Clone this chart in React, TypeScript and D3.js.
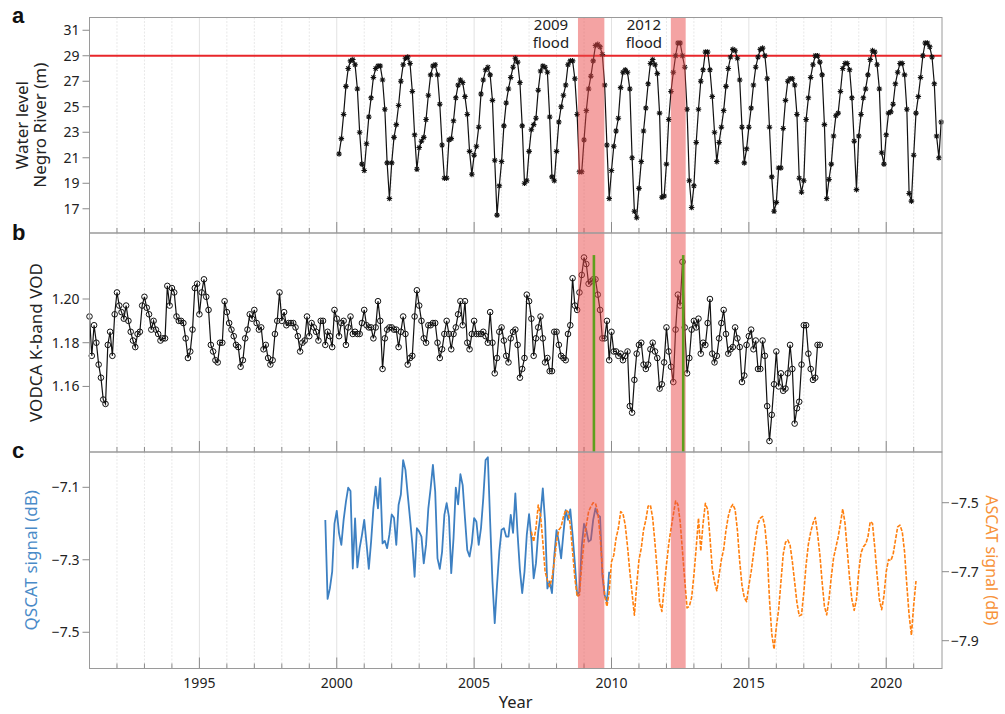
import React from 'react';
import * as d3 from 'd3';

// ---------- Panel a: Negro River water level (m), monthly, Feb 2000 – Jan 2022 ----------
const waterStart = 2000 + 1 / 12;
const wl2000 = [21.3, 22.5, 24.4, 26.6, 28.0, 28.6, 28.7, 28.3, 26.4, 23.0, 20.5];
const wl2001 = [20.0, 22.1, 24.2, 25.7, 27.3, 28.0, 28.2, 28.2, 27.1, 24.8, 20.6, 17.8];
const wl2002 = [20.6, 22.6, 23.6, 25.1, 27.0, 28.3, 28.8, 28.9, 28.4, 26.2, 22.8, 20.1];
const wl2003 = [21.8, 22.3, 22.6, 24.0, 25.9, 27.5, 28.2, 28.3, 27.5, 25.2, 22.0, 19.4];
const wl2004 = [19.4, 22.4, 22.5, 23.9, 25.7, 26.7, 27.1, 26.9, 25.8, 24.4, 21.5, 19.7];
const wl2005 = [21.2, 21.9, 23.4, 26.0, 27.1, 27.9, 28.1, 27.5, 25.5, 20.8, 16.5, 18.8];
const wl2006 = [20.7, 23.5, 25.3, 26.4, 27.3, 28.1, 28.8, 28.5, 26.9, 23.5, 19.0, 19.2];
const wl2007 = [21.5, 23.2, 23.6, 24.1, 26.3, 27.8, 28.2, 28.1, 27.7, 24.2, 19.5, 19.2];
const wl2008 = [21.5, 23.8, 25.0, 25.9, 26.7, 28.3, 28.6, 28.6, 27.2, 24.4, 19.9, 19.9];
const wl2009 = [22.4, 24.7, 26.4, 27.4, 28.6, 29.8, 29.9, 29.7, 29.1, 26.7, 22.0, 17.8];
const wl2010 = [20.0, 21.9, 23.1, 24.1, 26.5, 27.7, 27.9, 27.7, 26.4, 21.0, 16.8, 16.3];
const wl2011 = [18.6, 20.7, 23.1, 24.9, 26.8, 28.4, 28.7, 28.3, 27.6, 24.5, 17.9, 18.0];
const wl2012 = [20.5, 24.0, 26.2, 27.7, 29.0, 30.0, 30.0, 29.0, 28.1, 24.8, 19.2, 17.1];
const wl2013 = [18.8, 22.2, 24.8, 27.0, 27.9, 29.3, 29.3, 27.9, 25.8, 23.0, 20.7, 22.2];
const wl2014 = [23.4, 24.7, 26.6, 28.0, 28.9, 29.5, 29.4, 28.8, 27.1, 23.4, 20.6, 21.7];
const wl2015 = [23.4, 24.9, 26.7, 28.1, 28.9, 29.5, 29.6, 29.0, 27.2, 23.4, 19.5, 16.8];
const wl2016 = [17.5, 20.2, 20.2, 23.3, 25.5, 27.0, 27.2, 27.2, 26.7, 24.4, 19.4, 18.3];
const wl2017 = [19.2, 24.0, 25.7, 27.3, 28.3, 29.0, 29.0, 28.5, 27.5, 23.6, 17.8, 19.3];
const wl2018 = [20.5, 22.7, 24.3, 24.5, 26.2, 28.0, 28.4, 28.4, 27.9, 25.7, 22.3, 18.5];
const wl2019 = [22.7, 24.4, 25.7, 26.4, 27.5, 28.7, 29.4, 29.3, 28.3, 26.4, 21.4, 20.5];
const wl2020 = [22.8, 24.5, 24.6, 25.2, 26.8, 27.7, 28.4, 28.4, 27.5, 24.8, 18.2, 17.6];
const wl2021 = [21.2, 24.5, 25.8, 27.3, 29.0, 30.0, 30.0, 29.7, 28.9, 26.8, 22.7, 21.0];
const wl2022 = [23.8];
const waterLevel = [
  ...wl2000, ...wl2001, ...wl2002, ...wl2003, ...wl2004, ...wl2005, ...wl2006, ...wl2007,
  ...wl2008, ...wl2009, ...wl2010, ...wl2011, ...wl2012, ...wl2013, ...wl2014, ...wl2015,
  ...wl2016, ...wl2017, ...wl2018, ...wl2019, ...wl2020, ...wl2021, ...wl2022,
];
const floodThreshold = 29;

// ---------- Panel b: VODCA K-band VOD, monthly, Jan 1991 – Aug 2017 ----------
const vodStart = 1991;
const vod1991 = [1.192, 1.174, 1.188, 1.180, 1.170, 1.164, 1.154, 1.152, 1.179, 1.185, 1.174, 1.193];
const vod1992 = [1.203, 1.197, 1.194, 1.191, 1.197, 1.190, 1.185, 1.181, 1.178, 1.184, 1.185, 1.197];
const vod1993 = [1.201, 1.196, 1.193, 1.186, 1.190, 1.186, 1.184, 1.181, 1.182, 1.182, 1.206, 1.197];
const vod1994 = [1.205, 1.203, 1.192, 1.190, 1.190, 1.189, 1.182, 1.173, 1.176, 1.186, 1.205, 1.207];
const vod1995 = [1.193, 1.203, 1.209, 1.201, 1.195, 1.179, 1.176, 1.172, 1.171, 1.180, 1.180, 1.199];
const vod1996 = [1.194, 1.189, 1.186, 1.183, 1.179, 1.178, 1.169, 1.172, 1.182, 1.186, 1.193, 1.191];
const vod1997 = [1.195, 1.189, 1.186, 1.187, 1.177, 1.179, 1.173, 1.170, 1.172, 1.184, 1.190, 1.203];
const vod1998 = [1.190, 1.194, 1.188, 1.189, 1.189, 1.189, 1.187, 1.183, 1.176, 1.180, 1.181, 1.192];
const vod1999 = [1.183, 1.189, 1.187, 1.185, 1.181, 1.190, 1.190, 1.179, 1.185, 1.183, 1.178, 1.195];
const vod2000 = [1.191, 1.183, 1.189, 1.190, 1.179, 1.187, 1.192, 1.184, 1.185, 1.184, 1.184, 1.189];
const vod2001 = [1.195, 1.188, 1.187, 1.187, 1.182, 1.187, 1.199, 1.190, 1.168, 1.182, 1.186, 1.187];
const vod2002 = [1.187, 1.186, 1.186, 1.178, 1.185, 1.192, 1.184, 1.170, 1.173, 1.174, 1.192, 1.204];
const vod2003 = [1.197, 1.190, 1.182, 1.180, 1.188, 1.188, 1.189, 1.189, 1.180, 1.173, 1.177, 1.184];
const vod2004 = [1.190, 1.184, 1.177, 1.184, 1.187, 1.193, 1.199, 1.188, 1.199, 1.180, 1.177, 1.184];
const vod2005 = [1.190, 1.184, 1.184, 1.184, 1.185, 1.183, 1.180, 1.194, 1.180, 1.166, 1.173, 1.185];
const vod2006 = [1.187, 1.181, 1.174, 1.171, 1.182, 1.185, 1.186, 1.179, 1.164, 1.168, 1.173, 1.202];
const vod2007 = [1.199, 1.191, 1.174, 1.182, 1.187, 1.192, 1.182, 1.171, 1.173, 1.167, 1.167, 1.185];
const vod2008 = [1.185, 1.179, 1.174, 1.173, 1.172, 1.184, 1.188, 1.2095, 1.197, 1.195, 1.203, 1.211];
const vod2009 = [1.219, 1.216, 1.207, 1.208, 1.209, 1.209, 1.202, 1.195, 1.182, 1.182, 1.190, 1.172];
const vod2010 = [1.185, 1.176, 1.176, 1.174, 1.175, 1.172, 1.174, 1.176, 1.151, 1.148, 1.163, 1.175];
const vod2011 = [1.179, 1.180, 1.170, 1.168, 1.170, 1.177, 1.180, 1.176, 1.173, 1.159, 1.161, 1.171];
const vod2012 = [1.187, 1.176, 1.169, 1.162, 1.186, 1.202, 1.197, 1.217, 1.187, 1.166, 1.173, 1.186];
const vod2013 = [1.190, 1.187, 1.191, 1.175, 1.180, 1.179, 1.189, 1.200, 1.175, 1.171, 1.174, 1.182];
const vod2014 = [1.189, 1.195, 1.184, 1.175, 1.177, 1.178, 1.187, 1.182, 1.178, 1.162, 1.165, 1.179];
const vod2015 = [1.183, 1.186, 1.177, 1.181, 1.168, 1.168, 1.181, 1.174, 1.151, 1.135, 1.147, 1.161];
const vod2016 = [1.176, 1.160, 1.166, 1.158, 1.159, 1.166, 1.179, 1.168, 1.143, 1.150, 1.153, 1.170];
const vod2017 = [1.188, 1.188, 1.175, 1.168, 1.163, 1.164, 1.179, 1.179];
const vod = [
  ...vod1991, ...vod1992, ...vod1993, ...vod1994, ...vod1995, ...vod1996, ...vod1997, ...vod1998,
  ...vod1999, ...vod2000, ...vod2001, ...vod2002, ...vod2003, ...vod2004, ...vod2005, ...vod2006,
  ...vod2007, ...vod2008, ...vod2009, ...vod2010, ...vod2011, ...vod2012, ...vod2013, ...vod2014,
  ...vod2015, ...vod2016, ...vod2017,
];

// ---------- Panel c: QSCAT (left axis) Aug 1999 – Dec 2009, ASCAT (right axis) Feb 2007 – Feb 2021 ----------
const qscatStart = 1999 + 7 / 12;
const qs1999 = [-7.190, -7.408, -7.379, -7.333, -7.200];
const qs2000 = [-7.165, -7.227, -7.259, -7.190, -7.140, -7.101, -7.110, -7.324, -7.186, -7.321, -7.268, -7.232];
const qs2001 = [-7.190, -7.255, -7.325, -7.250, -7.158, -7.098, -7.158, -7.075, -7.255, -7.248, -7.268, -7.230];
const qs2002 = [-7.175, -7.184, -7.259, -7.149, -7.120, -7.025, -7.052, -7.121, -7.186, -7.255, -7.347, -7.213];
const qs2003 = [-7.222, -7.236, -7.310, -7.259, -7.158, -7.103, -7.038, -7.112, -7.296, -7.325, -7.278, -7.176];
const qs2004 = [-7.144, -7.181, -7.337, -7.241, -7.101, -7.147, -7.064, -7.094, -7.185, -7.273, -7.291, -7.254];
const qs2005 = [-7.185, -7.195, -7.259, -7.213, -7.130, -7.025, -7.017, -7.195, -7.360, -7.475, -7.370, -7.277];
const qs2006 = [-7.217, -7.213, -7.236, -7.236, -7.176, -7.226, -7.117, -7.231, -7.328, -7.392, -7.333, -7.231];
const qs2007 = [-7.174, -7.241, -7.351, -7.310, -7.224, -7.176, -7.103, -7.195, -7.379, -7.360, -7.392, -7.291];
const qs2008 = [-7.218, -7.250, -7.296, -7.227, -7.163, -7.190, -7.161, -7.231, -7.310, -7.397, -7.388, -7.264];
const qs2009 = [-7.201, -7.218, -7.250, -7.245, -7.190, -7.158, -7.176, -7.181, -7.342, -7.397, -7.415, -7.333];
const qscat = [
  ...qs1999, ...qs2000, ...qs2001, ...qs2002, ...qs2003, ...qs2004, ...qs2005, ...qs2006,
  ...qs2007, ...qs2008, ...qs2009,
];

const ascatStart = 2007 + 1 / 12;
const as2007 = [-7.584, -7.613, -7.574, -7.507, -7.536, -7.613, -7.700, -7.724, -7.743, -7.719, -7.671];
const as2008 = [-7.613, -7.579, -7.570, -7.541, -7.521, -7.526, -7.565, -7.642, -7.719, -7.772, -7.768, -7.681];
const as2009 = [-7.613, -7.565, -7.526, -7.511, -7.500, -7.502, -7.526, -7.594, -7.690, -7.768, -7.801, -7.758];
const as2010 = [-7.671, -7.652, -7.603, -7.574, -7.526, -7.531, -7.565, -7.627, -7.700, -7.763, -7.826, -7.739];
const as2011 = [-7.666, -7.632, -7.579, -7.550, -7.510, -7.507, -7.545, -7.618, -7.700, -7.790, -7.815, -7.748];
const as2012 = [-7.680, -7.620, -7.575, -7.535, -7.495, -7.505, -7.555, -7.640, -7.725, -7.805, -7.800, -7.775];
const as2013 = [-7.710, -7.630, -7.545, -7.640, -7.560, -7.502, -7.520, -7.600, -7.690, -7.730, -7.755, -7.710];
const as2014 = [-7.665, -7.635, -7.580, -7.540, -7.515, -7.505, -7.520, -7.580, -7.670, -7.740, -7.775, -7.787];
const as2015 = [-7.740, -7.700, -7.650, -7.600, -7.560, -7.545, -7.540, -7.570, -7.640, -7.780, -7.880, -7.925];
const as2016 = [-7.860, -7.810, -7.730, -7.650, -7.615, -7.608, -7.623, -7.671, -7.730, -7.790, -7.828, -7.825];
const as2017 = [-7.760, -7.680, -7.620, -7.585, -7.560, -7.543, -7.590, -7.650, -7.730, -7.800, -7.825, -7.780];
const as2018 = [-7.715, -7.660, -7.630, -7.600, -7.560, -7.518, -7.560, -7.640, -7.720, -7.780, -7.812, -7.780];
const as2019 = [-7.700, -7.645, -7.628, -7.620, -7.600, -7.555, -7.560, -7.630, -7.710, -7.780, -7.810, -7.770];
const as2020 = [-7.700, -7.665, -7.668, -7.650, -7.610, -7.570, -7.565, -7.584, -7.642, -7.739, -7.826, -7.884];
const as2021 = [-7.797, -7.727];
const ascat = [
  ...as2007, ...as2008, ...as2009, ...as2010, ...as2011, ...as2012, ...as2013, ...as2014,
  ...as2015, ...as2016, ...as2017, ...as2018, ...as2019, ...as2020, ...as2021,
];

// ---------- Annotations ----------
const floodLabels = ['2009', '2012'];
const floodStart = [2008.78, 2012.16];
const floodEnd = [2009.74, 2012.70];
const greenMarks = [2009.36, 2012.61];
const greenTop = 1.2201;

// ---------- Axis ticks ----------
const yearLabels = [1995, 2000, 2005, 2010, 2015, 2020];
const ticksA = [17, 19, 21, 23, 25, 27, 29, 31];
const ticksB = [1.16, 1.18, 1.20];
const ticksCLeft = [-7.5, -7.3, -7.1];
const ticksCRight = [-7.9, -7.7, -7.5];

const monthly = (start: number, vals: number[]) => vals.map((v, i) => ({ t: start + i / 12, v }));
const minus = (s: string) => s.replace('-', '\u2212');

const FONT = "'Noto Sans', 'DejaVu Sans', sans-serif";
const FRAME = '#9a9a9a';
const TICK = '#8a8a8a';
const TXT = '#222';
const BLUE = '#3d80c2';
const ORANGE = '#ff7f0e';

export default function App() {
  const W = 1005, H = 714;
  const L = 89.5, R = 942;
  const aTop = 17.5, aBot = 233, bBot = 452, cBot = 668.5;

  const x = d3.scaleLinear().domain([1991, 2022.03]).range([L, R]);
  const yA = d3.scaleLinear().domain([15.1, 32]).range([aBot, aTop]);
  const yB = d3.scaleLinear().domain([1.13, 1.2302]).range([bBot, aBot]);
  const yC = d3.scaleLinear().domain([-7.6, -7.0026]).range([cBot, bBot]);
  const yC2 = d3.scaleLinear().domain([-7.9806, -7.353]).range([cBot, bBot]);

  const wlPts = monthly(waterStart, waterLevel);
  const vodPts = monthly(vodStart, vod);
  const qsPts = monthly(qscatStart, qscat);
  const asPts = monthly(ascatStart, ascat);

  const lineA = d3.line<{ t: number; v: number }>().x(d => x(d.t)).y(d => yA(d.v));
  const lineB = d3.line<{ t: number; v: number }>().x(d => x(d.t)).y(d => yB(d.v));
  const lineC = d3.line<{ t: number; v: number }>().x(d => x(d.t)).y(d => yC(d.v));
  const lineC2 = d3.line<{ t: number; v: number }>().x(d => x(d.t)).y(d => yC2(d.v));

  const panels = [
    { top: aTop, bottom: aBot },
    { top: aBot, bottom: bBot },
    { top: bBot, bottom: cBot },
  ];
  const gridYears = d3.range(1992, 2022);

  const r = 2.8, a = r * 0.72;
  const asterisk = `M${-r},0L${r},0M0,${-r}L0,${r}M${-a},${-a}L${a},${a}M${-a},${a}L${a},${-a}`;

  return (
    <svg width={W} height={H} style={{ position: 'absolute', left: 0, top: 0, background: '#fff' }}
      fontFamily={FONT}>
      <rect x={0} y={0} width={W} height={H} fill="#fff" />
      {/* grid */}
      {panels.map((p, pi) => (
        <g key={'g' + pi}>
          {gridYears.map(yr => (
            <line key={yr} x1={x(yr)} x2={x(yr)} y1={p.top} y2={p.bottom}
              stroke={yr % 5 === 0 ? '#e2e2e2' : '#e8e8e8'} strokeWidth={1}
              strokeDasharray={yr % 5 === 0 ? undefined : '2,1.5'} />
          ))}
          {gridYears.map(yr => (
            <line key={'t' + yr} x1={x(yr)} x2={x(yr)} y1={p.bottom} y2={p.bottom - (yr % 5 === 0 ? 11 : 5)}
              stroke={TICK} strokeWidth={1} />
          ))}
        </g>
      ))}

      {/* panel a */}
      <line x1={L} x2={R} y1={yA(floodThreshold)} y2={yA(floodThreshold)} stroke="#e8262a" strokeWidth={1.8} />
      <path d={lineA(wlPts) || ''} fill="none" stroke="#111" strokeWidth={1.2} />
      {wlPts.map((d, i) => (
        <path key={i} d={asterisk} transform={`translate(${x(d.t)},${yA(d.v)})`} stroke="#111" strokeWidth={1.05} fill="none" />
      ))}

      {/* panel b */}
      <path d={lineB(vodPts) || ''} fill="none" stroke="#111" strokeWidth={1.2} />
      {vodPts.map((d, i) => (
        <circle key={i} cx={x(d.t)} cy={yB(d.v)} r={2.8} fill="none" stroke="#111" strokeWidth={1} />
      ))}

      {/* panel c */}
      <path d={lineC(qsPts) || ''} fill="none" stroke={BLUE} strokeWidth={1.8} strokeLinejoin="round" />
      <path d={lineC2(asPts) || ''} fill="none" stroke={ORANGE} strokeWidth={1.6} strokeDasharray="4,1.5" strokeLinejoin="round" />

      {/* flood bands */}
      {floodStart.map((s, i) => (
        <rect key={'band' + i} x={x(s)} y={aTop} width={x(floodEnd[i]) - x(s)} height={cBot - aTop}
          fill="rgba(233,71,71,0.5)" />
      ))}
      {greenMarks.map((g, i) => (
        <line key={'gm' + i} x1={x(g)} x2={x(g)} y1={yB(greenTop)} y2={bBot} stroke="#5f9f1c" strokeWidth={2.6} />
      ))}
      {floodLabels.map((lab, i) => (
        <text key={'fy' + i} x={x(floodStart[i]) - 27} y={30} textAnchor="middle" fontSize={15} fill={TXT}>{lab}</text>
      ))}
      {floodLabels.map((lab, i) => (
        <text key={'ff' + i} x={x(floodStart[i]) - 27} y={48} textAnchor="middle" fontSize={15} fill={TXT}>flood</text>
      ))}

      {/* frames */}
      {panels.map((p, pi) => (
        <rect key={'f' + pi} x={L} y={p.top} width={R - L} height={p.bottom - p.top} fill="none" stroke={FRAME} strokeWidth={1} />
      ))}

      {/* y axes */}
      {ticksA.map(t => (
        <g key={'ya' + t}>
          <line x1={L - 7} x2={L} y1={yA(t)} y2={yA(t)} stroke={TICK} />
          <text x={L - 10} y={yA(t)} dy="0.35em" textAnchor="end" fontSize={14} fill={TXT}>{t}</text>
        </g>
      ))}
      {ticksB.map(t => (
        <g key={'yb' + t}>
          <line x1={L - 7} x2={L} y1={yB(t)} y2={yB(t)} stroke={TICK} />
          <text x={L - 10} y={yB(t)} dy="0.35em" textAnchor="end" fontSize={14} fill={TXT}>{t.toFixed(2)}</text>
        </g>
      ))}
      {ticksCLeft.map(t => (
        <g key={'yc' + t}>
          <line x1={L - 7} x2={L} y1={yC(t)} y2={yC(t)} stroke={TICK} />
          <text x={L - 10} y={yC(t)} dy="0.35em" textAnchor="end" fontSize={14} fill={TXT}>{minus(t.toFixed(1))}</text>
        </g>
      ))}
      {ticksCRight.map(t => (
        <g key={'yc2' + t}>
          <line x1={R} x2={R + 7} y1={yC2(t)} y2={yC2(t)} stroke={TICK} />
          <text x={R + 9} y={yC2(t)} dy="0.35em" textAnchor="start" fontSize={14} fill={TXT}>{minus(t.toFixed(1))}</text>
        </g>
      ))}

      {/* x labels */}
      {yearLabels.map(yr => (
        <text key={'xl' + yr} x={x(yr)} y={688} textAnchor="middle" fontSize={14} fill={TXT}>{yr}</text>
      ))}
      <text x={(L + R) / 2} y={708} textAnchor="middle" fontSize={16.5} fill={TXT}>Year</text>

      {/* axis titles */}
      <text transform={`translate(28,${(aTop + aBot) / 2}) rotate(-90)`} textAnchor="middle" fontSize={17} fill={TXT}>Water level</text>
      <text transform={`translate(45.5,${(aTop + aBot) / 2}) rotate(-90)`} textAnchor="middle" fontSize={17} fill={TXT}>Negro River (m)</text>
      <text transform={`translate(41.5,${(aBot + bBot) / 2}) rotate(-90)`} textAnchor="middle" fontSize={17} fill={TXT}>VODCA K-band VOD</text>
      <text transform={`translate(37,${(bBot + cBot) / 2}) rotate(-90)`} textAnchor="middle" fontSize={17} fill="#4a8bc8">QSCAT signal (dB)</text>
      <text transform={`translate(986,${(bBot + cBot) / 2}) rotate(90)`} textAnchor="middle" fontSize={16} fill="#f7923a">ASCAT signal (dB)</text>

      {/* panel letters */}
      <text x={12} y={23} fontSize={22} fontWeight="bold" fontFamily="'Liberation Sans', Arial, sans-serif" fill="#111">a</text>
      <text x={12} y={240} fontSize={22} fontWeight="bold" fontFamily="'Liberation Sans', Arial, sans-serif" fill="#111">b</text>
      <text x={12} y={458} fontSize={22} fontWeight="bold" fontFamily="'Liberation Sans', Arial, sans-serif" fill="#111">c</text>
    </svg>
  );
}
